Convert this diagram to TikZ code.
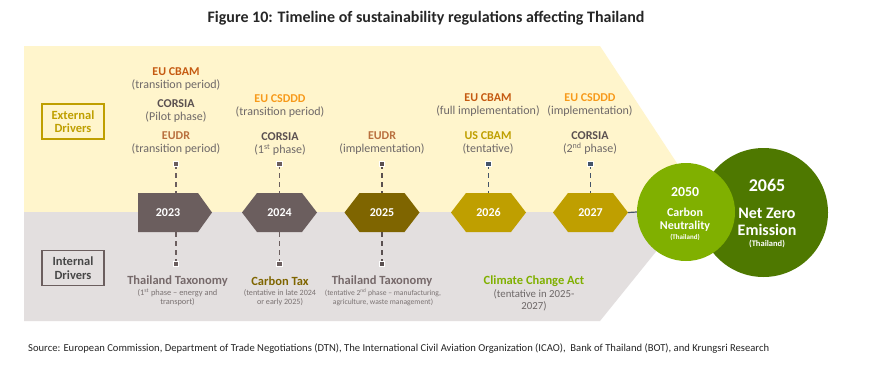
\documentclass[tikz,border=0pt]{standalone}
\usepackage{fontspec}
\setmainfont{Carlito}
\definecolor{ybg}{HTML}{FFF5CC}
\definecolor{gbg}{HTML}{E3DFDF}
\definecolor{hexgray}{HTML}{6B5E5E}
\definecolor{hexolive}{HTML}{7F6500}
\definecolor{hexgold}{HTML}{BF9F00}
\definecolor{ltgreen}{HTML}{80B000}
\definecolor{dkgreen}{HTML}{4E7800}
\definecolor{cbam}{HTML}{C55A11}
\definecolor{csddd}{HTML}{F79A1B}
\definecolor{eudr}{HTML}{B9703E}
\definecolor{corsia}{HTML}{5A5050}
\definecolor{txtgray}{HTML}{6E6868}
\definecolor{taxo}{HTML}{76696A}
\definecolor{smallgray}{HTML}{7A7272}
\definecolor{slate}{HTML}{44546A}
\definecolor{titlec}{HTML}{262626}
\begin{document}
\begin{tikzpicture}[x=1pt,y=-1pt,
  yearnode/.style={minimum width=75pt,minimum height=39pt,inner sep=0pt,text=white,font=\fontsize{12}{13}\selectfont\bfseries},
  lab/.style={align=center,inner sep=0pt,text=txtgray,font=\fontsize{12}{13}\selectfont},
  lowhead/.style={inner sep=0pt,font=\fontsize{12.5}{14}\selectfont\bfseries},
  lowsmall/.style={align=center,inner sep=0pt,text=smallgray,font=\fontsize{8.4}{9.5}\selectfont},
  conn/.style={dash pattern=on 5pt off 4pt,line width=1.5pt},
  marker/.style={rectangle,minimum size=5.5pt,inner sep=0pt,draw=white,line width=1.2pt},
  drvbox/.style={minimum width=62pt,minimum height=35pt,inner sep=0pt,align=center,line width=1.8pt,font=\fontsize{12.5}{13.5}\selectfont\bfseries},
  ctext/.style={align=center,inner sep=0pt,text=white,font=\bfseries}
]
\useasboundingbox (0,0) rectangle (870,378);
\fill[white] (0,0) rectangle (870,378);
% background bands
\fill[ybg] (24,46) -- (600,46) -- (709,212) -- (24,212) -- cycle;
\fill[gbg] (24,212) -- (688,212) -- (600,321) -- (24,321) -- cycle;
% title
\node[text=titlec,font=\fontsize{16}{18}\selectfont\bfseries] (title) at (426,18) {Figure 10: Timeline of sustainability regulations affecting Thailand};
% driver boxes
\node[drvbox,draw=hexgold,text=hexgold] (ext) at (73,121.5) {External\\Drivers};
\node[drvbox,draw=hexgray,text=titlec!85] (int) at (73,268) {Internal\\Drivers};
% hexagon shapes
\fill[hexgray] (138,193) -- (198,193) -- (212,212.5) -- (198,232) -- (138,232) -- cycle;
\fill[hexgray] (242,212.5) -- ++(15,-19.5) -- ++(45,0) -- ++(15,19.5) -- ++(-15,19.5) -- ++(-45,0) -- cycle;
\fill[hexolive] (344.5,212.5) -- ++(15,-19.5) -- ++(45,0) -- ++(15,19.5) -- ++(-15,19.5) -- ++(-45,0) -- cycle;
\fill[hexgold] (451,212.5) -- ++(15,-19.5) -- ++(45,0) -- ++(15,19.5) -- ++(-15,19.5) -- ++(-45,0) -- cycle;
\fill[hexgold] (553,212.5) -- ++(15,-19.5) -- ++(45,0) -- ++(15,19.5) -- ++(-15,19.5) -- ++(-45,0) -- cycle;
% year nodes
\node[yearnode,minimum width=74pt] (y23) at (175,212.5) {\hspace*{-14pt}2023};
\node[yearnode] (y24) at (279.5,212.5) {2024};
\node[yearnode] (y25) at (382,212.5) {2025};
\node[yearnode] (y26) at (488.5,212.5) {2026};
\node[yearnode] (y27) at (590.5,212.5) {2027};
% circles
\node[circle,fill=dkgreen,minimum size=129pt,inner sep=0pt] (nz) at (763.5,212.5) {};
\node[circle,fill=ltgreen,minimum size=98pt,inner sep=0pt] (cn) at (686,212) {};
\draw[slate,line width=1.2pt] (y27.east) -- (cn.west);
\node[ctext,font=\fontsize{13.8}{15}\selectfont\bfseries] (cn1) at (685,192) {2050};
\node[ctext,font=\fontsize{12}{13}\selectfont\bfseries] (cn2) at (685,219.5) {Carbon\\Neutrality};
\node[ctext,font=\fontsize{7}{8}\selectfont\bfseries] (cn3) at (685,237) {(Thailand)};
\node[ctext,font=\fontsize{18}{20}\selectfont\bfseries] (nz1) at (767,185.5) {2065};
\node[ctext,font=\fontsize{16}{17}\selectfont\bfseries] (nz2) at (767,221.5) {Net Zero\\Emission};
\node[ctext,font=\fontsize{8.5}{9}\selectfont\bfseries] (nz3) at (767,243.5) {(Thailand)};
% connector coordinates
\coordinate (m23t) at (176,164); \coordinate (m23b) at (176,264);
\coordinate (m24t) at (279.5,164); \coordinate (m24b) at (279.5,264);
\coordinate (m25t) at (382,164); \coordinate (m25b) at (382,264);
\coordinate (m26t) at (488.5,164);
\coordinate (m27t) at (590.5,164);
\draw[conn,hexgray] (m23t) -- (m23t |- y23.north);
\draw[conn,hexgray] (m23t |- y23.south) -- (m23b);
\draw[conn,hexgray] (m24t) -- (y24.north);
\draw[conn,hexgray] (y24.south) -- (m24b);
\draw[conn,corsia] (m25t) -- (y25.north);
\draw[conn,corsia] (y25.south) -- (m25b);
\draw[conn,slate] (m26t) -- (y26.north);
\draw[conn,slate] (m27t) -- (y27.north);
\node[marker,fill=hexgray] at (m23t) {};
\node[marker,fill=hexgray] at (m23b) {};
\node[marker,fill=hexgray] at (m24t) {};
\node[marker,fill=hexgray] at (m24b) {};
\node[marker,fill=corsia] at (m25t) {};
\node[marker,fill=corsia] at (m25b) {};
\node[marker,fill=slate] at (m26t) {};
\node[marker,fill=slate] at (m27t) {};
% upper labels
\node[lab] (a23) at (176,79) {\textbf{\color{cbam}EU CBAM}\\(transition period)};
\node[lab] (b23) at (176,111) {\textbf{\color{corsia}CORSIA}\\(Pilot phase)};
\node[lab] (c23) at (176,143) {\textbf{\color{eudr}EUDR}\\(transition period)};
\node[lab] (a24) at (280,106) {\textbf{\color{csddd}EU CSDDD}\\(transition period)};
\node[lab] (b24) at (280,144) {\textbf{\color{corsia}CORSIA}\\(1\textsuperscript{st} phase)};
\node[lab] (a25) at (382,143) {\textbf{\color{eudr}EUDR}\\(implementation)};
\node[lab] (a26) at (488,105) {\textbf{\color{cbam}EU CBAM}\\(full implementation)};
\node[lab] (b26) at (488,143) {\textbf{\color{hexgold}US CBAM}\\(tentative)};
\node[lab] (a27) at (590,105) {\textbf{\color{csddd}EU CSDDD}\\(implementation)};
\node[lab] (b27) at (590,143) {\textbf{\color{corsia}CORSIA}\\(2\textsuperscript{nd} phase)};
% lower labels
\node[lowhead,text=taxo] (l23) at (177.5,281) {Thailand Taxonomy};
\node[lowsmall] (s23) at (177.5,297.5) {(1\textsuperscript{st} phase -- energy and\\transport)};
\node[lowhead,text=hexolive] (l24) at (280,281) {Carbon Tax};
\node[lowsmall,font=\fontsize{8.1}{9.5}\selectfont] (s24) at (280,297.5) {(tentative in late 2024\\or early 2025)};
\node[lowhead,text=taxo] (l25) at (382,281) {Thailand Taxonomy};
\node[lowsmall,font=\fontsize{7.6}{9.5}\selectfont] (s25) at (383,297.5) {(tentative 2\textsuperscript{nd} phase -- manufacturing,\\agriculture, waste management)};
\node[lowhead,text=ltgreen] (l26) at (534,281) {Climate Change Act};
\node[lab,font=\fontsize{10.8}{12}\selectfont] (s26) at (534,300) {(tentative in 2025-\\2027)};
% source
\node[anchor=west,inner sep=0pt,text=titlec,font=\fontsize{10.6}{12}\selectfont] (src) at (28,349) {Source: European Commission, Department of Trade Negotiations (DTN), The International Civil Aviation Organization (ICAO), \ Bank of Thailand (BOT), and Krungsri Research};
\end{tikzpicture}
\end{document}
